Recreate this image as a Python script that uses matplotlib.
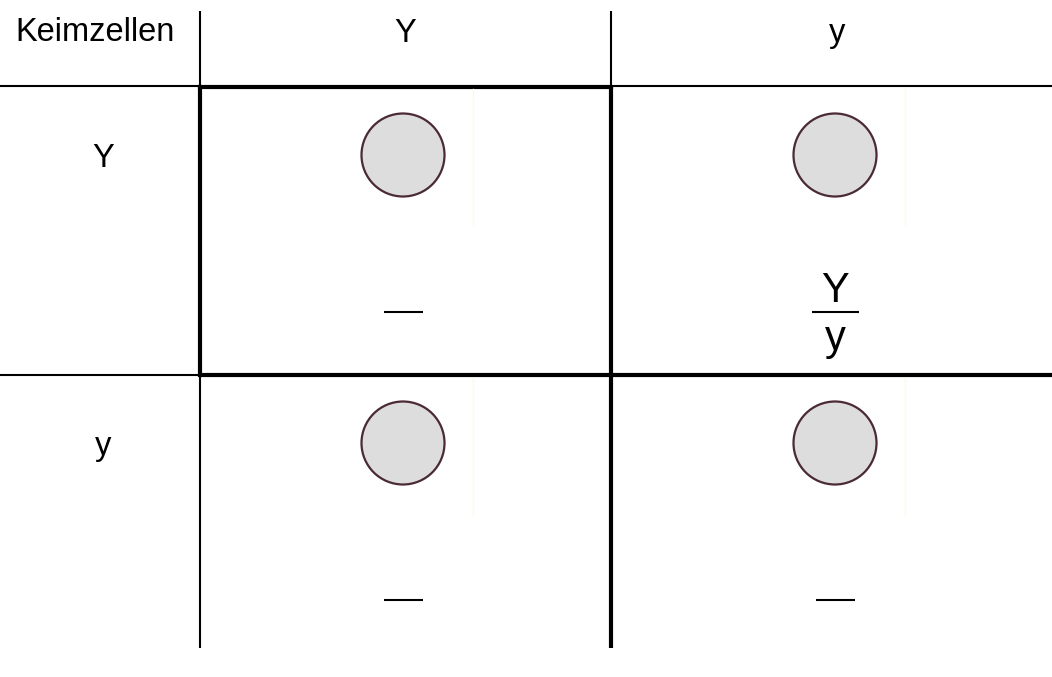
import matplotlib
matplotlib.use("Agg")
import matplotlib.pyplot as plt
from matplotlib.patches import Circle

plt.rcParams['font.family'] = ['Liberation Sans', 'DejaVu Sans']

corner_label = "Keimzellen"
col_labels = ["Y", "y"]
row_labels = ["Y", "y"]
# genotype fraction per cell: (numerator, denominator); empty strings = blank fraction
cell_top = [["", "Y"], ["", ""]]
cell_bottom = [["", "y"], ["", ""]]

W, H = 1052, 677
fig = plt.figure(figsize=(W / 100, H / 100), dpi=100)
ax = fig.add_axes([0, 0, 1, 1])
ax.set_xlim(0, W)
ax.set_ylim(H, 0)
ax.axis("off")

# grid geometry (pixels)
x0, x1, x2 = 200, 611, W
y_top, y0, y1, y2 = 11, 86, 375, 648
col_centers = [403, 835]
row_top = [y0, y1]
thin, thick = 1.5, 3.0

# thin lines
ax.plot([0, x0], [y0, y0], color="black", lw=thin, solid_capstyle="butt")
ax.plot([x1, x2], [y0, y0], color="black", lw=thin, solid_capstyle="butt")
ax.plot([0, x0], [y1, y1], color="black", lw=thin, solid_capstyle="butt")
ax.plot([x0, x0], [y_top, y0], color="black", lw=thin, solid_capstyle="butt")
ax.plot([x1, x1], [y_top, y0], color="black", lw=thin, solid_capstyle="butt")
ax.plot([x0, x0], [y1, y2], color="black", lw=thin, solid_capstyle="butt")
# thick lines
ax.plot([x0, x1], [y0 + 1, y0 + 1], color="black", lw=thick, solid_capstyle="projecting")
ax.plot([x0, x2], [y1, y1], color="black", lw=thick, solid_capstyle="butt")
ax.plot([x0, x0], [y0 + 1, y1], color="black", lw=thick, solid_capstyle="projecting")
ax.plot([x1, x1], [y0 + 1, y2], color="black", lw=thick, solid_capstyle="butt")

fs = 23.5
# header texts
ax.text(95, 41, corner_label, ha="center", va="baseline", fontsize=fs)
for cx, lab in zip(col_centers, col_labels):
    ax.text(cx + 2, 42, lab, ha="center", va="baseline", fontsize=fs)
row_label_y = [167, 455]
for ry, lab in zip(row_label_y, row_labels):
    ax.text(103, ry, lab, ha="center", va="baseline", fontsize=fs)

# cells
circle_off = [69, 68]
dash_off = [226, 225]
for r in range(2):
    for c in range(2):
        cx = col_centers[c]
        ty = row_top[r]
        circ = Circle((cx, ty + circle_off[r]), 41.5, facecolor="#dddddd",
                      edgecolor="#4a2a35", lw=1.6, zorder=3)
        ax.add_patch(circ)
        # faint guide line
        ax.plot([cx + 70, cx + 70], [ty + 3, ty + 140], color="#fdfbe2", lw=1)
        # fraction
        fy = ty + dash_off[r]
        half = 19.5 if not cell_top[r][c] else 23.5
        ax.plot([cx - half, cx + half], [fy, fy], color="black", lw=1.5,
                solid_capstyle="butt")
        if cell_top[r][c]:
            ax.text(cx, fy - 10, cell_top[r][c], ha="center", va="baseline",
                    fontsize=30)
        if cell_bottom[r][c]:
            ax.text(cx, fy + 38, cell_bottom[r][c], ha="center",
                    va="baseline", fontsize=30)

fig.savefig("out.png", dpi=100)
